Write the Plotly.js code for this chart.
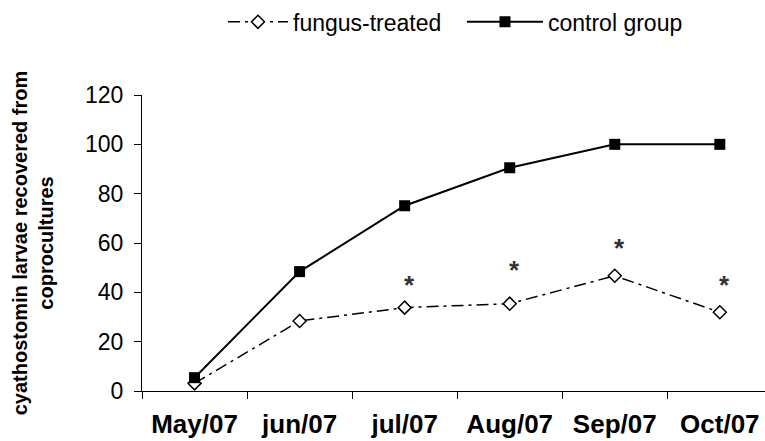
<!DOCTYPE html>
<html>
<head>
<meta charset="utf-8">
<script src="https://cdn.plot.ly/plotly-3.0.1.min.js"></script>
<style>html,body{margin:0;padding:0;background:#fff;}#chart{width:765px;height:441px;}</style>
</head>
<body>
<div id="chart"></div>
<script>
const months = ["May/07", "jun/07", "jul/07", "Aug/07", "Sep/07", "Oct/07"];
const fungusTreated = [3.1, 28.4, 33.8, 35.4, 46.7, 31.9];
const controlGroup = [5.4, 48.4, 75.1, 90.5, 100, 100];
const starMonths = ["jul/07", "Aug/07", "Sep/07", "Oct/07"];
const starY = [43, 49, 58, 43];
const yTicks = [0, 20, 40, 60, 80, 100, 120];

const FONT = "Arial, 'Liberation Sans', sans-serif";

const traces = [
  {
    x: months, y: fungusTreated, name: "fungus-treated", type: "scatter", mode: "lines+markers",
    legend: "legend",
    line: {color: "#000", width: 1.5, dash: "12px,5px,3px,5px"},
    marker: {symbol: "diamond", size: 10, color: "#fff", line: {color: "#000", width: 1.5}}
  },
  {
    x: months, y: controlGroup, name: "control group", type: "scatter", mode: "lines+markers",
    legend: "legend2",
    line: {color: "#000", width: 2},
    marker: {symbol: "square", size: 11, color: "#000", line: {color: "#000", width: 0}}
  }
];

const annotations = starMonths.map((m, i) => ({
  x: m, y: starY[i], xref: "x", yref: "y", text: "<b>*</b>", showarrow: false,
  xshift: 5, yanchor: "middle", font: {family: FONT, size: 26, color: "#333"}
}));

const legendBase = {orientation: "h", y: 1.247, xanchor: "left", yanchor: "middle",
  font: {family: FONT, size: 23, color: "#000"}, bgcolor: "rgba(0,0,0,0)"};

const layout = {
  width: 765, height: 441,
  margin: {l: 142, r: 0, t: 95, b: 50},
  paper_bgcolor: "#fff", plot_bgcolor: "#fff",
  font: {family: FONT, color: "#000"},
  showlegend: true,
  legend: Object.assign({}, legendBase, {x: 0.13, itemwidth: 60}),
  legend2: Object.assign({}, legendBase, {x: 0.5136, itemwidth: 76}),
  xaxis: {
    type: "category", range: [-0.5, 5.43], showgrid: false, zeroline: false,
    showline: true, linecolor: "#000", linewidth: 1,
    ticks: "outside", ticklen: 7, tickcolor: "#000", tickson: "boundaries",
    ticklabelstandoff: 10,
    tickfont: {family: FONT, size: 26, color: "#000", weight: "bold"}
  },
  yaxis: {
    range: [0, 120], tickvals: yTicks, showgrid: false, zeroline: false,
    showline: true, linecolor: "#000", linewidth: 1,
    ticks: "outside", ticklen: 7, tickcolor: "#000", ticklabelstandoff: 6,
    tickfont: {family: FONT, size: 23, color: "#000"},
    title: {text: "<b>cyathostomin larvae recovered from<br>coprocultures</b>",
            font: {family: FONT, size: 20, color: "#000"}, standoff: 26}
  },
  annotations: annotations
};

Plotly.newPlot("chart", traces, layout, {displayModeBar: false, staticPlot: true});
</script>
</body>
</html>
